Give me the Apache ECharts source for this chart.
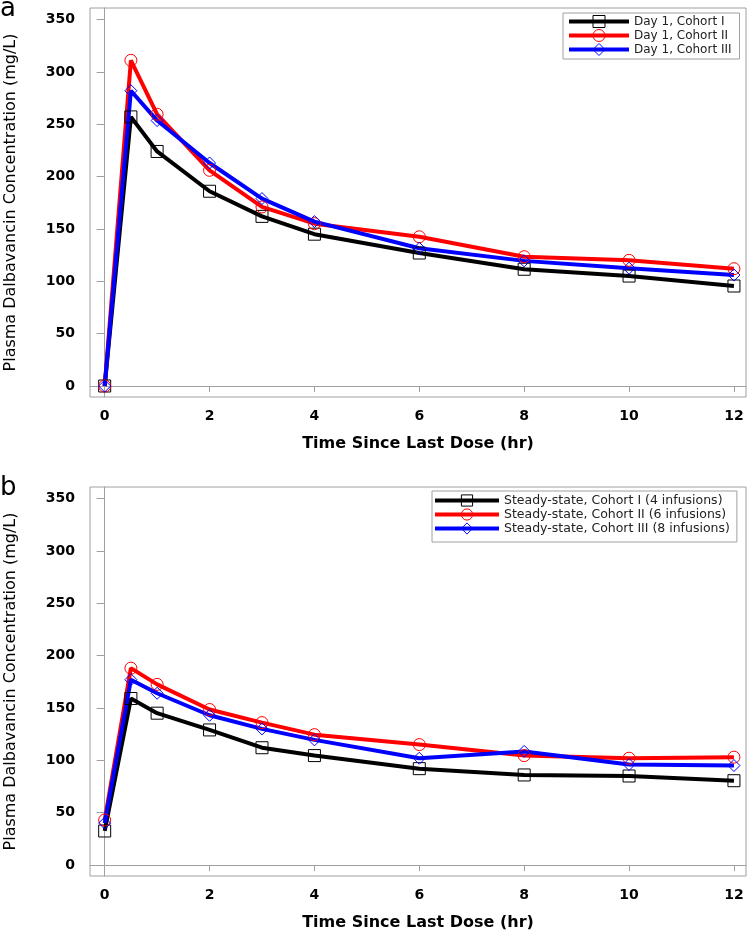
<!DOCTYPE html>
<html>
<head>
<meta charset="utf-8">
<script src="https://cdn.jsdelivr.net/npm/echarts@6/dist/echarts.min.js"></script>
<style>
html,body{margin:0;padding:0;background:#fff;}
#chart{width:750px;height:933px;}
</style>
</head>
<body>
<div id="chart"></div>
<script>
// Time points (hr)
var times = [0, 0.5, 1, 2, 3, 4, 6, 8, 10, 12];
var xTicks = [0, 2, 4, 6, 8, 10, 12];
var yTicks = [0, 50, 100, 150, 200, 250, 300, 350];

// Panel a: Day 1
var namesA = ['Day 1, Cohort I', 'Day 1, Cohort II', 'Day 1, Cohort III'];
var day1CohortI   = [0, 257, 224, 186, 162, 145, 127, 111.5, 105, 95.5];
var day1CohortII  = [0, 311, 259.5, 206, 171, 155, 142.5, 123.5, 120, 112];
var day1CohortIII = [0, 282, 253.5, 213, 179, 157, 131.5, 119.5, 112.5, 106];

// Panel b: Steady-state
var namesB = ['Steady-state, Cohort I (4 infusions)', 'Steady-state, Cohort II (6 infusions)', 'Steady-state, Cohort III (8 infusions)'];
var ssCohortI   = [32.5, 159, 145, 129, 112, 104.5, 92, 86, 85, 80.5];
var ssCohortII  = [43, 188, 172.5, 148.5, 136, 124.5, 115, 104.5, 102, 103];
var ssCohortIII = [40, 177, 164, 143, 130, 119.5, 102, 108.5, 96, 95];

var yTitle = 'Plasma Dalbavancin Concentration (mg/L)';
var xTitle = 'Time Since Last Dose (hr)';

var colors = ['#000000', '#ff0000', '#0000ff'];
var symbols = ['rect', 'circle', 'diamond'];
var frame = '#a0a0a0';

function pairs(ys) { return times.map(function (t, i) { return [t, ys[i]]; }); }

function mkX(gi) {
  return {
    type: 'value', gridIndex: gi, min: -0.28, max: 12.23,
    name: xTitle, nameLocation: 'middle', nameGap: 39,
    nameTextStyle: { fontFamily: 'DejaVu Sans', fontWeight: 'bold', fontSize: 16, color: '#000' },
    axisLine: { show: true, lineStyle: { color: frame } },
    axisTick: { show: true, customValues: xTicks, length: 6, lineStyle: { color: frame } },
    axisLabel: { customValues: xTicks, margin: 12, fontFamily: 'DejaVu Sans', fontWeight: 'bold', fontSize: 14, color: '#000' },
    splitLine: { show: false }
  };
}
function mkY(gi) {
  return {
    type: 'value', gridIndex: gi, min: -10.5, max: 361,
    name: yTitle, nameLocation: 'middle', nameGap: 71, nameRotate: 90,
    nameTextStyle: { fontFamily: 'DejaVu Sans', fontSize: 16, color: '#000' },
    axisLine: { show: true, lineStyle: { color: frame } },
    axisTick: { show: true, customValues: yTicks, length: 8, lineStyle: { color: frame } },
    axisLabel: { customValues: yTicks, margin: 15, fontFamily: 'DejaVu Sans', fontWeight: 'bold', fontSize: 14, color: '#000' },
    splitLine: { show: false }
  };
}
function mkSeries(name, ys, k, gi) {
  return {
    type: 'line', name: name, xAxisIndex: gi, yAxisIndex: gi,
    data: pairs(ys),
    symbol: symbols[k], symbolSize: 12, showAllSymbol: true,
    lineStyle: { color: colors[k], width: 4 },
    itemStyle: { color: 'transparent', borderColor: colors[k], borderWidth: 1 },
    emphasis: { disabled: true },
    animation: false
  };
}
function mkLegend(names, left, top, iw, ih, gap, pad, fs) {
  return {
    data: names, orient: 'vertical', left: left, top: top,
    itemWidth: iw, itemHeight: ih, itemGap: gap,
    padding: pad,
    borderColor: frame, borderWidth: 1, backgroundColor: '#fff',
    lineStyle: { width: 4 },
    itemStyle: { borderWidth: 1 },
    textStyle: { fontFamily: 'DejaVu Sans', fontSize: fs, color: '#222' },
    selectedMode: false
  };
}

var chart = echarts.init(document.getElementById('chart'), null, { renderer: 'canvas' });
chart.setOption({
  backgroundColor: '#fff',
  animation: false,
  grid: [
    { left: 90, top: 8, width: 656, height: 389, show: true, borderColor: frame, borderWidth: 1, backgroundColor: '#fff', containLabel: false, outerBoundsMode: 'none' },
    { left: 90, top: 487, width: 656, height: 389, show: true, borderColor: frame, borderWidth: 1, backgroundColor: '#fff', containLabel: false, outerBoundsMode: 'none' }
  ],
  xAxis: [mkX(0), mkX(1)],
  yAxis: [mkY(0), mkY(1)],
  legend: [
    mkLegend(namesA, 563, 13, 60, 15, 1, [2, 8, 3, 4], 12),
    mkLegend(namesB, 432, 491, 64, 14, 1, [3, 7, 7, 1], 12.5)
  ],
  graphic: [
    { type: 'text', left: 0, top: -4, style: { text: 'a', font: '26px "DejaVu Sans"', fill: '#000' } },
    { type: 'text', left: 0, top: 475, style: { text: 'b', font: '26px "DejaVu Sans"', fill: '#000' } }
  ],
  series: [
    mkSeries(namesA[0], day1CohortI, 0, 0),
    mkSeries(namesA[1], day1CohortII, 1, 0),
    mkSeries(namesA[2], day1CohortIII, 2, 0),
    mkSeries(namesB[0], ssCohortI, 0, 1),
    mkSeries(namesB[1], ssCohortII, 1, 1),
    mkSeries(namesB[2], ssCohortIII, 2, 1)
  ]
});
</script>
</body>
</html>
